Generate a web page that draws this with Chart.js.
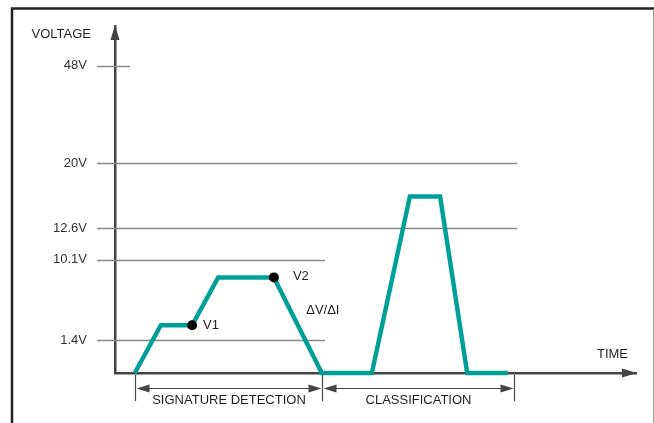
<!DOCTYPE html>
<html>
<head>
<meta charset="utf-8">
<script src="https://cdn.jsdelivr.net/npm/chart.js@4/dist/chart.umd.min.js"></script>
<style>
  html, body { margin: 0; padding: 0; background: #fff; }
  #wrap { width: 654px; height: 423px; position: relative; }
</style>
</head>
<body>
<div id="wrap"><canvas id="chart"></canvas></div>
<script>
// Waveform: time (arbitrary units) vs voltage
const traceTime = [3.8, 8.8, 14.8, 19.8, 30.5, 39.7, 49.3, 56.6, 62.4, 67.6, 75.4];
const traceVolts = [0, 3.0, 3.0, 8.2, 8.2, 0, 0, 16.2, 16.2, 0, 0];

// Measurement points
const markerNames = ['V1', 'V2'];
const markerTime = [14.8, 30.5];
const markerVolts = [3.0, 8.2];

// Voltage levels on the axis
const tickVolts = [1.4, 10.1, 12.6, 20, 48];
const tickLabels = ['1.4V', '10.1V', '12.6V', '20V', '48V'];
const gridEnds = [40.3, 40.3, 77.2, 77.2, 2.9]; // how far each level line runs (time units)

// Phases shown under the time axis
const phaseBounds = [3.8, 39.8, 76.6];
const phaseNames = ['SIGNATURE DETECTION', 'CLASSIFICATION'];

// the diagram is not to scale: voltage levels sit at fixed fractions of the axis
const levelVolts = [0, 1.4, 10.1, 12.6, 20, 48, 60];
const levelFrac = [0, 0.095, 0.326, 0.418, 0.605, 0.885, 1];

const toFrac = (v) => {
  for (let i = 1; i < levelVolts.length; i++) {
    if (v <= levelVolts[i]) {
      const t = (v - levelVolts[i - 1]) / (levelVolts[i] - levelVolts[i - 1]);
      return levelFrac[i - 1] + t * (levelFrac[i] - levelFrac[i - 1]);
    }
  }
  return 1;
};
const fromFrac = (f) => {
  for (let i = 1; i < levelFrac.length; i++) {
    if (f <= levelFrac[i]) {
      const t = (f - levelFrac[i - 1]) / (levelFrac[i] - levelFrac[i - 1]);
      return levelVolts[i - 1] + t * (levelVolts[i] - levelVolts[i - 1]);
    }
  }
  return levelVolts[levelVolts.length - 1];
};

class SchematicScale extends Chart.LinearScale {
  getPixelForValue(value) { return this.getPixelForDecimal(toFrac(value)); }
  getValueForPixel(pixel) { return fromFrac(this.getDecimalForPixel(pixel)); }
}
SchematicScale.id = 'schematic';
SchematicScale.defaults = Chart.LinearScale.defaults;
Chart.register(SchematicScale);

const INK = '#231f20';
const AXIS = '#454545';
const FONT = '13px "Liberation Sans", Arial, sans-serif';

const arrowHead = (ctx, x, y, dx, dy, len, half) => {
  // tip at (x,y), pointing along (dx,dy)
  ctx.beginPath();
  ctx.moveTo(x, y);
  ctx.lineTo(x - dx * len - dy * half, y - dy * len + dx * half);
  ctx.lineTo(x - dx * len + dy * half, y - dy * len - dx * half);
  ctx.closePath();
  ctx.fill();
};

const diagramPlugin = {
  id: 'diagram',
  beforeDraw(chart) {
    const ctx = chart.ctx;
    ctx.save();
    ctx.strokeStyle = '#222';
    ctx.lineWidth = 2.5;
    ctx.beginPath();
    ctx.moveTo(12, 423);
    ctx.lineTo(12, 8.5);
    ctx.lineTo(654, 8.5);
    ctx.stroke();
    ctx.strokeStyle = '#9a9a9a';
    ctx.lineWidth = 1;
    ctx.beginPath();
    ctx.moveTo(653.5, 9);
    ctx.lineTo(653.5, 423);
    ctx.stroke();
    ctx.restore();
  },
  beforeDatasetsDraw(chart) {
    const { ctx, scales: { x, y } } = chart;
    ctx.save();
    ctx.strokeStyle = '#8a8a8a';
    ctx.lineWidth = 1.4;
    tickVolts.forEach((v, i) => {
      const py = Math.round(y.getPixelForValue(v)) + 0.5;
      ctx.beginPath();
      ctx.moveTo(x.left - 18, py);
      ctx.lineTo(x.getPixelForValue(gridEnds[i]), py);
      ctx.stroke();
    });
    ctx.restore();
  },
  afterDraw(chart) {
    const { ctx, chartArea, scales: { x, y } } = chart;
    ctx.save();
    ctx.fillStyle = AXIS;
    arrowHead(ctx, chartArea.left, chartArea.top - 1, 0, -1, 15, 4.5);
    arrowHead(ctx, chartArea.right + 1, chartArea.bottom, 1, 0, 15, 4.5);

    ctx.font = FONT;
    ctx.fillStyle = INK;
    ctx.textBaseline = 'middle';
    ctx.textAlign = 'right';
    ctx.fillText('VOLTAGE', chartArea.left - 24, chartArea.top + 8);
    ctx.fillText('TIME', chartArea.right - 8, chartArea.bottom - 19);

    ctx.textAlign = 'left';
    const markerDx = [11, 19];
    const markerDy = [0, -1];
    markerNames.forEach((name, i) => {
      ctx.fillText(name, x.getPixelForValue(markerTime[i]) + markerDx[i],
        y.getPixelForValue(markerVolts[i]) + markerDy[i]);
    });
    ctx.fillText('\u0394V/\u0394I', x.getPixelForValue(36.7), y.getPixelForValue(4.66));

    // phase brackets
    const by = chartArea.bottom + 15.5;
    ctx.strokeStyle = AXIS;
    ctx.fillStyle = AXIS;
    ctx.lineWidth = 1.2;
    phaseBounds.forEach((t) => {
      const px = Math.round(x.getPixelForValue(t)) + 0.5;
      ctx.beginPath();
      ctx.moveTo(px, chartArea.bottom + 2);
      ctx.lineTo(px, chartArea.bottom + 28);
      ctx.stroke();
    });
    phaseNames.forEach((name, i) => {
      const a = Math.round(x.getPixelForValue(phaseBounds[i])) + 1.5;
      const b = Math.round(x.getPixelForValue(phaseBounds[i + 1])) - 0.5;
      ctx.beginPath();
      ctx.moveTo(a + 5, by);
      ctx.lineTo(b - 5, by);
      ctx.stroke();
      arrowHead(ctx, a, by, -1, 0, 13, 4);
      arrowHead(ctx, b, by, 1, 0, 13, 4);
      ctx.save();
      ctx.fillStyle = INK;
      ctx.textAlign = 'center';
      ctx.fillText(name, (a + b) / 2, chartArea.bottom + 27.5);
      ctx.restore();
    });
    ctx.restore();
  }
};

new Chart(document.getElementById('chart'), {
  type: 'line',
  data: {
    datasets: [
      {
        label: 'Points',
        data: markerTime.map((t, i) => ({ x: t, y: markerVolts[i] })),
        showLine: false,
        pointRadius: 5,
        pointBackgroundColor: '#000',
        pointBorderColor: '#000',
        pointBorderWidth: 0,
        order: 0,
        clip: false
      },
      {
        label: 'Port voltage',
        data: traceTime.map((t, i) => ({ x: t, y: traceVolts[i] })),
        borderColor: '#00a099',
        borderWidth: 4.5,
        borderJoinStyle: 'miter',
        pointRadius: 0,
        tension: 0,
        fill: false,
        order: 1,
        clip: false
      }
    ]
  },
  options: {
    responsive: true,
    maintainAspectRatio: false,
    animation: false,
    events: [],
    layout: { padding: { left: 0, right: 18, top: 26, bottom: 0 } },
    plugins: { legend: { display: false }, tooltip: { enabled: false } },
    scales: {
      x: {
        type: 'linear',
        min: 0,
        max: 100,
        grid: { display: false, drawTicks: false },
        border: { display: true, color: AXIS, width: 2.5 },
        ticks: { display: false },
        afterFit(scale) { scale.height = 50; scale.paddingLeft = 0; scale.paddingRight = 0; }
      },
      y: {
        type: 'schematic',
        min: 0,
        max: 60,
        grid: { display: false, drawTicks: false },
        border: { display: true, color: AXIS, width: 2.5 },
        afterBuildTicks(scale) { scale.ticks = tickVolts.map(v => ({ value: v })); },
        ticks: {
          autoSkip: false,
          padding: 28,
          color: '#333',
          font: { family: '"Liberation Sans", Arial, sans-serif', size: 13 },
          callback: (value) => tickLabels[tickVolts.indexOf(value)]
        },
        afterFit(scale) { scale.width = 115; scale.paddingTop = 0; scale.paddingBottom = 0; }
      }
    }
  },
  plugins: [diagramPlugin]
});
</script>
</body>
</html>
